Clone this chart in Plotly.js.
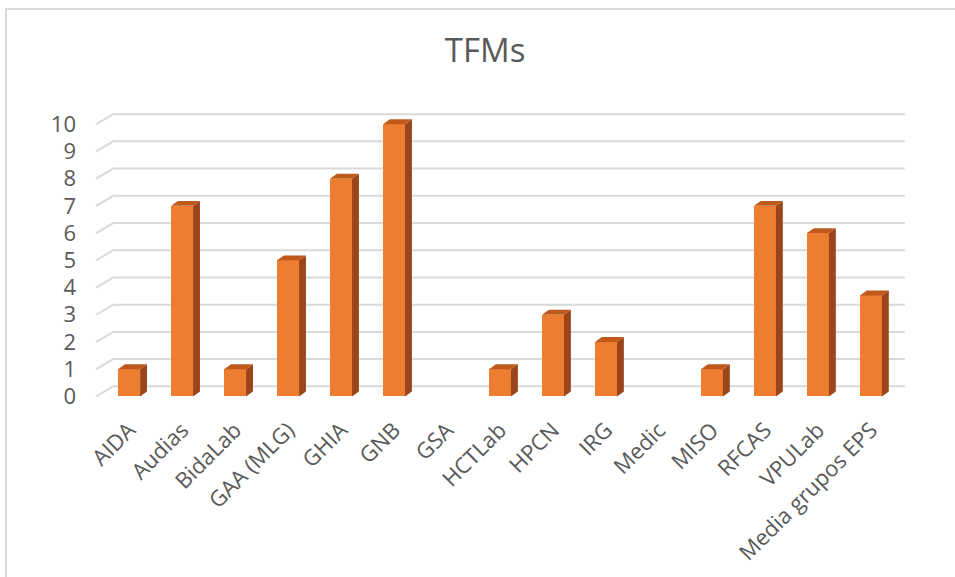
<!DOCTYPE html>
<html>
<head>
<meta charset="utf-8">
<script src="https://cdn.plot.ly/plotly-3.0.1.min.js"></script>
<style>
  html, body { margin: 0; padding: 0; background: #fff; overflow: hidden; }
  #chart { width: 955px; height: 577px; }
  #frame { position: absolute; left: 5px; top: 8px; width: 960px; height: 580px;
           border-left: 2px solid #D9D9D9; border-top: 2px solid #D9D9D9; pointer-events: none; }
</style>
</head>
<body>
<div id="chart"></div>
<div id="frame"></div>
<script>
// ---- data ----
const categories = ['AIDA', 'Audias', 'BidaLab', 'GAA (MLG)', 'GHIA', 'GNB', 'GSA', 'HCTLab',
                    'HPCN', 'IRG', 'Medic', 'MISO', 'RFCAS', 'VPULab', 'Media grupos EPS'];
const values = [1, 7, 1, 5, 8, 10, 0, 1, 3, 2, 0, 1, 7, 6, 3.71];
const yTicks = [0, 1, 2, 3, 4, 5, 6, 7, 8, 9, 10];
const chartTitle = 'TFMs';

// ---- styling / geometry (3D look) ----
const FRONT = '#ED7D31', TOP = '#C0591C', SIDE = '#9C451A';
const GRID = '#D9D9D9', TEXT = '#595959';
const FONT = '"Open Sans", Lato, sans-serif';
const barW = 0.415;        // front face width (category units)
const depX = 0.13, depY = 0.18;   // bar depth offset
const wallX0 = -0.62, wallDX = 0.32, wallDY = 0.37, wallX1 = 14.64;

const idx = categories.map((c, i) => i);
const traces = [];

traces.push({
  type: 'bar', x: idx, y: values, width: barW,
  marker: { color: FRONT, line: { width: 0 } },
  hoverinfo: 'x+y', showlegend: false
});

idx.forEach(i => {
  const v = values[i];
  if (v <= 0) return;
  const l = i - barW / 2, r = i + barW / 2;
  // side face
  traces.push({
    type: 'scatter', mode: 'lines', fill: 'toself', fillcolor: SIDE,
    x: [r, r + depX, r + depX, r, r], y: [0, depY, v + depY, v, 0],
    line: { width: 0, color: SIDE }, hoverinfo: 'skip', showlegend: false
  });
  // top face
  traces.push({
    type: 'scatter', mode: 'lines', fill: 'toself', fillcolor: TOP,
    x: [l, r, r + depX, l + depX, l], y: [v, v, v + depY, v + depY, v],
    line: { width: 0, color: TOP }, hoverinfo: 'skip', showlegend: false
  });
});

// gridlines on back wall + side wall diagonals
const shapes = yTicks.map(v => ({
  type: 'path', xref: 'x', yref: 'y', layer: 'below',
  path: `M ${wallX0},${v} L ${wallX0 + wallDX},${v + wallDY} L ${wallX1},${v + wallDY}`,
  line: { color: GRID, width: 2 }
}));

const layout = {
  width: 955, height: 577,
  paper_bgcolor: '#fff', plot_bgcolor: 'rgba(0,0,0,0)',
  margin: { l: 92, r: 47, t: 97, b: 167 },
  font: { family: FONT, color: TEXT, size: 22 },
  title: {
    text: chartTitle, x: 0.508, xref: 'container', xanchor: 'center',
    y: 0.912, yref: 'container', yanchor: 'middle',
    font: { size: 33, color: TEXT, family: FONT }
  },
  xaxis: {
    range: [-0.7, 14.7], tickmode: 'array', tickvals: idx, ticktext: categories,
    tickangle: -45, showgrid: false, zeroline: false, showline: false, ticks: '',
    ticklabelstandoff: 2,
    tickfont: { size: 22, color: TEXT, family: FONT }
  },
  yaxis: {
    range: [-0.5, 11], tickmode: 'array', tickvals: yTicks,
    showgrid: false, zeroline: false, showline: false, ticks: '',
    ticklabelstandoff: 15,
    tickfont: { size: 22, color: TEXT, family: FONT }
  },
  shapes: shapes,
  showlegend: false,
  bargap: 0
};

Plotly.newPlot('chart', traces, layout, { displayModeBar: false, staticPlot: true });
</script>
</body>
</html>
